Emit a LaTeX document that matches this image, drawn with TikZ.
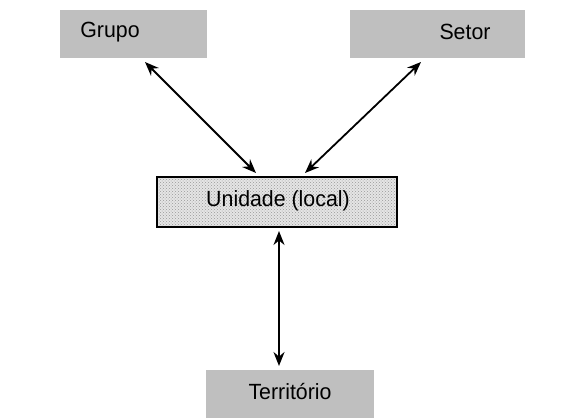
\documentclass[tikz,border=0pt]{standalone}
\usepackage{fontspec}
\setmainfont{Liberation Sans}
\usetikzlibrary{arrows.meta,patterns}
\begin{document}
\begin{tikzpicture}[x=1pt,y=-1pt,
  txt/.style={font=\fontsize{22}{24}\selectfont\addfontfeatures{FakeStretch=0.97}, inner sep=0pt},
  graybox/.style={fill=black!25, draw=none, minimum height=48pt, inner sep=0pt},
  link/.style={line width=1.8pt, {Stealth[length=14pt,width=11pt]}-{Stealth[length=14pt,width=11pt]}}]
\useasboundingbox (0,0) rectangle (564,418);
\node[graybox, minimum width=147pt] (grupo) at (133.5,34) {};
\node[txt] (grupotxt) at (110,32) {Grupo};
\node[graybox, minimum width=175pt] (setor) at (437.5,34) {};
\node[txt] (setortxt) at (465,32) {Setor};
\node[graybox, minimum width=168pt] (terr) at (289.5,394) {};
\node[txt] (terrtxt) at (290,391) {Território};
\node[draw=none, fill=black!10, minimum width=240pt, minimum height=50pt, inner sep=0pt] (unid) at (277,202) {};
\fill[pattern=crosshatch dots, pattern color=black!40] (unid.south west) rectangle (unid.north east);
\draw[line width=1.8pt] (unid.south west) rectangle (unid.north east);
\node[txt] (unidtxt) at (278,201) {Unidade (local)};
\coordinate (g1) at (145,62);
\coordinate (g2) at (256,173);
\coordinate (s1) at (421,62);
\coordinate (s2) at (305,173);
\coordinate (t1) at (279,231);
\coordinate (t2) at (279,366);
\draw[link] (g1) -- (g2);
\draw[link] (s1) -- (s2);
\draw[link] (t1) -- (t2);
\end{tikzpicture}
\end{document}
